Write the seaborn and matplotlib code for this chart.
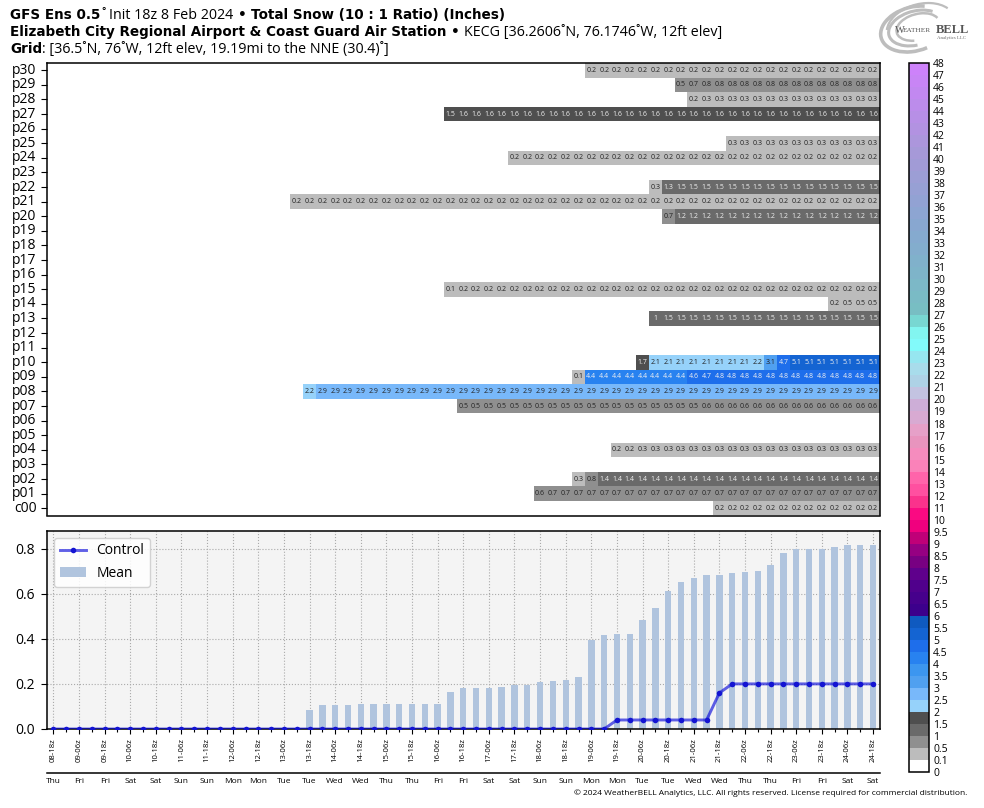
import matplotlib
matplotlib.use("Agg")
import numpy as np
import pandas as pd
import matplotlib.pyplot as plt
import seaborn as sns
from matplotlib.colors import BoundaryNorm, ListedColormap, LinearSegmentedColormap, to_hex
from matplotlib.cm import ScalarMappable
from matplotlib.patches import Arc

plt.rcParams['font.family'] = ['Open Sans', 'DejaVu Sans']

NA = float('nan')

# ensemble members, 65 time steps each (blank until the first snow)
# 1.49 and 0.49 print as 1.5 / 0.5 but sit in the lower colour bin, like the original
c00 = [NA] * 52 + [0.2] * 13
p01 = [NA] * 38 + [0.6] + [0.7] * 26
p02 = [NA] * 41 + [0.3, 0.8] + [1.4] * 22
p03 = [NA] * 65
p04 = [NA] * 44 + [0.2, 0.2] + [0.3] * 19
p05 = [NA] * 65
p06 = [NA] * 65
p07 = [NA] * 32 + [0.5] * 19 + [0.6] * 14
p08 = [NA] * 20 + [2.2] + [2.9] * 44
p09 = [NA] * 41 + [0.1] + [4.4] * 8 + [4.6, 4.7] + [4.8] * 13
p10 = [NA] * 46 + [1.7] + [2.1] * 8 + [2.2, 3.1, 4.7] + [5.1] * 7
p11 = [NA] * 65
p12 = [NA] * 65
p13 = [NA] * 47 + [1.0] + [1.49] * 17
p14 = [NA] * 61 + [0.2, 0.49, 0.49, 0.49]
p15 = [NA] * 31 + [0.1] + [0.2] * 33
p16 = [NA] * 65
p17 = [NA] * 65
p18 = [NA] * 65
p19 = [NA] * 65
p20 = [NA] * 48 + [0.7] + [1.2] * 16
p21 = [NA] * 19 + [0.2] * 46
p22 = [NA] * 47 + [0.3, 1.3] + [1.49] * 16
p23 = [NA] * 65
p24 = [NA] * 36 + [0.2] * 29
p25 = [NA] * 53 + [0.3] * 12
p26 = [NA] * 65
p27 = [NA] * 31 + [1.5] + [1.6] * 33
p28 = [NA] * 50 + [0.2] + [0.3] * 14
p29 = [NA] * 49 + [0.5, 0.7] + [0.8] * 14
p30 = [NA] * 42 + [0.2] * 23

members = [p30, p29, p28, p27, p26, p25, p24, p23, p22, p21, p20, p19, p18, p17, p16, p15,
           p14, p13, p12, p11, p10, p09, p08, p07, p06, p05, p04, p03, p02, p01, c00]
member_names = ['p30', 'p29', 'p28', 'p27', 'p26', 'p25', 'p24', 'p23', 'p22', 'p21', 'p20',
                'p19', 'p18', 'p17', 'p16', 'p15', 'p14', 'p13', 'p12', 'p11', 'p10', 'p09',
                'p08', 'p07', 'p06', 'p05', 'p04', 'p03', 'p02', 'p01', 'c00']

mean_snow = [0] * 20 + [
    0.085, 0.105, 0.105, 0.105, 0.11, 0.11, 0.11, 0.11, 0.11, 0.11, 0.11,
    0.165, 0.18, 0.18, 0.18, 0.185, 0.195, 0.195, 0.21, 0.215, 0.217, 0.23,
    0.395, 0.417, 0.42, 0.42, 0.483, 0.536, 0.61, 0.65, 0.67, 0.683, 0.683,
    0.69, 0.696, 0.70, 0.727, 0.78, 0.80, 0.80, 0.80, 0.807, 0.815, 0.815, 0.815]
control_snow = [0] * 44 + [0.04] * 8 + [0.16] + [0.2] * 12

date_labels = ['08-18z', '09-06z', '09-18z', '10-06z', '10-18z', '11-06z', '11-18z', '12-06z',
               '12-18z', '13-06z', '13-18z', '14-06z', '14-18z', '15-06z', '15-18z', '16-06z',
               '16-18z', '17-06z', '17-18z', '18-06z', '18-18z', '19-06z', '19-18z', '20-06z',
               '20-18z', '21-06z', '21-18z', '22-06z', '22-18z', '23-06z', '23-18z', '24-06z',
               '24-18z']
day_labels = ['Thu', 'Fri', 'Fri', 'Sat', 'Sat', 'Sun', 'Sun', 'Mon', 'Mon', 'Tue', 'Tue',
              'Wed', 'Wed', 'Thu', 'Thu', 'Fri', 'Fri', 'Sat', 'Sat', 'Sun', 'Sun', 'Mon',
              'Mon', 'Tue', 'Tue', 'Wed', 'Wed', 'Thu', 'Thu', 'Fri', 'Fri', 'Sat', 'Sat']

levels = [0, 0.1, 0.5, 1, 1.5, 2, 2.5, 3, 3.5, 4, 4.5, 5, 5.5, 6, 6.5, 7, 7.5, 8, 8.5, 9, 9.5,
          10] + list(range(11, 49))

# colour scale, low end by hand, top part is a smooth ramp
low_colors = ['#ffffff', '#bcbcbc', '#8f8f8f', '#6a6a6a', '#4f4f4f', '#96d2fa', '#78b8fa',
              '#50a0f0', '#3c96f0', '#2882f0', '#1e6eeb', '#1464d2', '#0f5ac0', '#3c008c',
              '#46008c', '#50008c', '#5f008c', '#780082', '#960082', '#c00078', '#f0007e',
              '#fa0a82', '#fa328c', '#ff50a0', '#ff64aa', '#fa82b9', '#f58cbe', '#e894be',
              '#e6a0c8', '#d8aad2', '#cdaed7', '#c3c3e1', '#aed2e6', '#a8dceb', '#96e6f0',
              '#82fafa', '#82f5f0', '#78d7d2']
ramp = LinearSegmentedColormap.from_list('top', ['#78bec3', '#86a8d0', '#a898d8', '#cd82fa'])
top_colors = [to_hex(ramp(t)) for t in np.linspace(0, 1, len(levels) - 1 - len(low_colors))]
cmap = ListedColormap(low_colors + top_colors)
norm = BoundaryNorm(levels, cmap.N)

W, H = 984, 808


def px_rect(left, top, right, bottom):
    return [left / W, 1 - bottom / H, (right - left) / W, (bottom - top) / H]


fig = plt.figure(figsize=(W / 100, H / 100), dpi=100)

# top panel - member table
df = pd.DataFrame(members, index=member_names)
annot = df.map(lambda v: '' if pd.isna(v) else f'{round(v, 1):g}')
ax1 = fig.add_axes(px_rect(47, 63, 879.5, 515.5))
sns.heatmap(df, ax=ax1, cmap=cmap, norm=norm, cbar=False, annot=annot, fmt='',
            annot_kws={'fontsize': 5})
for txt in ax1.texts:
    v = float(txt.get_text())
    txt.set_color('#f0f0f0' if (1 <= v < 2 or v >= 4) else '#222222')
ax1.set_xticks([])
ax1.set_xlabel('')
ax1.set_ylabel('')
ax1.tick_params(axis='y', labelsize=10, length=4, width=0.8, pad=3.5, labelrotation=0)
for s in ax1.spines.values():
    s.set_visible(True)
    s.set_linewidth(1.1)

# bottom panel - mean bars and control line
ax2 = fig.add_axes(px_rect(47, 531, 879.5, 729))
steps = np.arange(len(mean_snow))
sns.barplot(x=steps, y=mean_snow, ax=ax2, color='#b0c4de', saturation=1, width=0.5, label='Mean',
            zorder=2)
sns.lineplot(x=steps, y=control_snow, ax=ax2, color=(0, 0, 0.85, 0.62), linewidth=2.1, marker='o',
             markersize=4, markerfacecolor='#1414d2', markeredgewidth=0, label='Control', zorder=3)
ax2.set_facecolor('#f4f4f4')
ax2.set_xlim(-0.5, 64.5)
ax2.set_ylim(0, 0.878)
ax2.set_yticks([0, 0.2, 0.4, 0.6, 0.8])
ax2.set_yticklabels(['0.0', '0.2', '0.4', '0.6', '0.8'])
ax2.set_xticks(steps[::2])
ax2.set_xticks(steps[1::2], minor=True)
ax2.set_xticklabels(date_labels, rotation=90, fontsize=5.6)
ax2.tick_params(axis='y', labelsize=10, length=4, width=0.8, pad=4.5)
ax2.tick_params(axis='x', which='major', length=3.5, width=0.8, pad=3)
ax2.tick_params(axis='x', which='minor', length=2, width=0.8)
ax2.grid(True, axis='both', which='major', linestyle=':', color='#aaaaaa', linewidth=0.8)
ax2.set_axisbelow(True)
ax2.set_xlabel('')
ax2.set_ylabel('')
for s in ax2.spines.values():
    s.set_linewidth(1.1)
handles, labels = ax2.get_legend_handles_labels()
order = [labels.index('Control'), labels.index('Mean')]
ax2.legend([handles[i] for i in order], [labels[i] for i in order], loc='upper left',
           fontsize=10, framealpha=0.85, handlelength=1.9, handletextpad=0.75, labelspacing=0.55)

# weekday strip under the dates
trans = ax2.get_xaxis_transform()
ax2.plot([-0.5, 64.5], [-0.221, -0.221], color='black', linewidth=1.1, transform=trans, clip_on=False)
for pos, day in zip(steps[::2], day_labels):
    ax2.text(pos, -0.263, day, transform=trans, ha='center', va='center', fontsize=6)

# colour bar
cax = fig.add_axes(px_rect(909, 63, 929, 772))
cb = fig.colorbar(ScalarMappable(norm=norm, cmap=cmap), cax=cax, spacing='uniform', ticks=levels,
                  format='%g')
cb.ax.tick_params(length=0, labelsize=7.5, pad=3)
cb.outline.set_linewidth(1.1)
cb.outline.set_edgecolor('black')

# header lines, bold DejaVu mixed with regular Open Sans
renderer = fig.canvas.get_renderer()


def header_line(y_px, parts, x_px=10):
    x = x_px
    for text, bold, gap in parts:
        t = fig.text(x / W, 1 - y_px / H, text, fontsize=9.75 if bold else 10.25, va='baseline',
                     family='DejaVu Sans' if bold else ['Open Sans', 'DejaVu Sans'],
                     fontweight='bold' if bold else 'normal')
        x += t.get_window_extent(renderer).width + gap


header_line(19, [('GFS Ens 0.5', True, 1), ('˚', False, 3), ('Init 18z 8 Feb 2024', False, 5),
                 ('•', True, 4), ('Total Snow (10 : 1 Ratio) (Inches)', True, 0)])
header_line(36, [('Elizabeth City Regional Airport & Coast Guard Air Station', True, 5),
                 ('•', True, 4), ('KECG [36.2606˚N, 76.1746˚W, 12ft elev]', False, 0)])
header_line(53, [('Grid', True, 0), (': [36.5˚N, 76˚W, 12ft elev, 19.19mi to the NNE (30.4)˚]', False, 0)])

fig.text(967 / W, 1 - 793.5 / H,
         '© 2024 WeatherBELL Analytics, LLC. All rights reserved. License required for commercial distribution.',
         ha='right', va='center', fontsize=6.05)

# logo in the top right corner
logo = fig.add_axes([0, 0, 1, 1], zorder=-1)
logo.set_xlim(0, W)
logo.set_ylim(H, 0)
logo.axis('off')
for (cx, cy, w, h, a1, a2, lw) in [(914, 29, 68, 44, 70, 310, 2.6), (916, 28, 56, 34, 100, 330, 2.2),
                                   (918, 27, 44, 26, 120, 350, 1.8), (921, 27, 70, 46, 190, 340, 1.6)]:
    logo.add_patch(Arc((cx, cy), w, h, angle=-15, theta1=a1, theta2=a2, color='#bdbdbd', linewidth=lw))
logo.text(895, 30.5, 'W', family='Liberation Serif', fontsize=7.5, color='#555555', va='center')
logo.text(903, 30.5, 'EATHER', family='Liberation Serif', fontsize=5.2, color='#555555', va='center')
logo.text(936, 30, 'BELL', family='Liberation Serif', fontsize=9, color='#555555', va='center',
          fontweight='bold')
logo.text(966, 38, 'Analytics LLC', family='Liberation Serif', fontsize=3.5, color='#666666',
          va='center', ha='right')

fig.savefig('out.png', dpi=100)
